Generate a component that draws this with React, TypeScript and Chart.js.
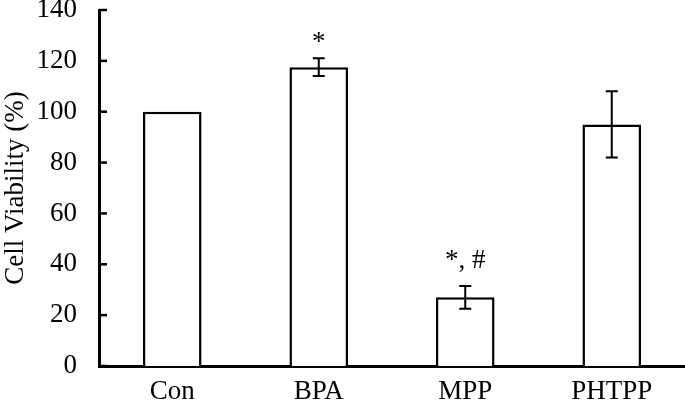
import React, { useEffect, useRef } from 'react';
import { Chart, registerables } from 'chart.js';

Chart.register(...registerables);

const categories = ['Con', 'BPA', 'MPP', 'PHTPP'];
const viability = [100, 117.5, 27, 95];
const errors = [0, 3.5, 4.5, 13];
const marks = ['', '*', '*, #', ''];
const yMin = 0;
const yMax = 140;
const yStep = 20;

const FONT = '"Times New Roman", "Liberation Serif", Times, serif';
const FONT_SIZE = 27;

const errorBarPlugin = {
  id: 'errorBars',
  afterDatasetsDraw(chart: any, _args: any, opts: any) {
    const ctx = chart.ctx;
    const meta = chart.getDatasetMeta(0);
    const y = chart.scales.y;
    ctx.save();
    ctx.strokeStyle = '#000';
    ctx.lineWidth = opts.lineWidth ?? 2;
    meta.data.forEach((bar: any, i: number) => {
      const e = errors[i];
      const x = bar.x;
      let top = y.getPixelForValue(viability[i]);
      if (e) {
        const yt = y.getPixelForValue(viability[i] + e);
        const yb = y.getPixelForValue(viability[i] - e);
        const cap = opts.cap ?? 6;
        ctx.beginPath();
        ctx.moveTo(x, yt);
        ctx.lineTo(x, yb);
        ctx.moveTo(x - cap, yt);
        ctx.lineTo(x + cap, yt);
        ctx.moveTo(x - cap, yb);
        ctx.lineTo(x + cap, yb);
        ctx.stroke();
        top = yt;
      }
      if (marks[i]) {
        ctx.fillStyle = '#000';
        ctx.font = `${FONT_SIZE}px ${FONT}`;
        ctx.textAlign = 'center';
        ctx.textBaseline = 'alphabetic';
        ctx.fillText(marks[i], x, top - (opts.gaps?.[i] ?? 10));
      }
    });
    ctx.restore();
  },
};

const innerTicksPlugin = {
  id: 'innerTicks',
  afterDraw(chart: any, _args: any, opts: any) {
    const ctx = chart.ctx;
    const y = chart.scales.y;
    const left = chart.chartArea.left;
    ctx.save();
    ctx.strokeStyle = '#000';
    ctx.lineWidth = opts.lineWidth ?? 2.5;
    y.ticks.forEach((t: any) => {
      const py = y.getPixelForValue(t.value);
      ctx.beginPath();
      ctx.moveTo(left, py);
      ctx.lineTo(left + (opts.length ?? 8), py);
      ctx.stroke();
    });
    ctx.restore();
  },
};

export default function App() {
  const ref = useRef<HTMLCanvasElement | null>(null);

  useEffect(() => {
    document.body.style.margin = '0';
    if (!ref.current) return;
    const chart = new Chart(ref.current, {
      type: 'bar',
      data: {
        labels: categories,
        datasets: [
          {
            data: viability,
            backgroundColor: '#ffffff',
            borderColor: '#000000',
            borderWidth: 2.5,
            barPercentage: 0.4,
            categoryPercentage: 1,
          },
        ],
      },
      options: {
        responsive: false,
        animation: false,
        layout: { padding: { top: 10, right: 0, left: 0, bottom: 0 } },
        plugins: {
          legend: { display: false },
          tooltip: { enabled: false },
          errorBars: { lineWidth: 2, cap: 6, gaps: [0, 8, 18, 0] },
          innerTicks: { lineWidth: 2.5, length: 8 },
        } as any,
        scales: {
          x: {
            type: 'category',
            offset: true,
            grid: { display: false, drawTicks: false },
            border: { display: true, color: '#000', width: 3 },
            ticks: {
              color: '#000',
              font: { family: FONT, size: FONT_SIZE },
              padding: 10,
            },
            afterFit: (s: any) => {
              s.height = 43;
              s.paddingLeft = 0;
              s.paddingRight = 0;
            },
          },
          y: {
            min: yMin,
            max: yMax,
            grid: { display: false, drawTicks: false },
            border: { display: true, color: '#000', width: 3 },
            ticks: {
              stepSize: yStep,
              color: '#000',
              font: { family: FONT, size: FONT_SIZE },
              padding: 22,
            },
            title: {
              display: true,
              text: 'Cell Viability (%)',
              color: '#000',
              font: { family: FONT, size: FONT_SIZE },
              padding: 0,
            },
            afterFit: (s: any) => {
              s.width = 99;
              s.paddingTop = 0;
              s.paddingBottom = 0;
            },
          },
        },
      },
      plugins: [errorBarPlugin, innerTicksPlugin],
    });
    return () => chart.destroy();
  }, []);

  return (
    <div style={{ width: 685, height: 409 }}>
      <canvas ref={ref} width={685} height={409} />
    </div>
  );
}
